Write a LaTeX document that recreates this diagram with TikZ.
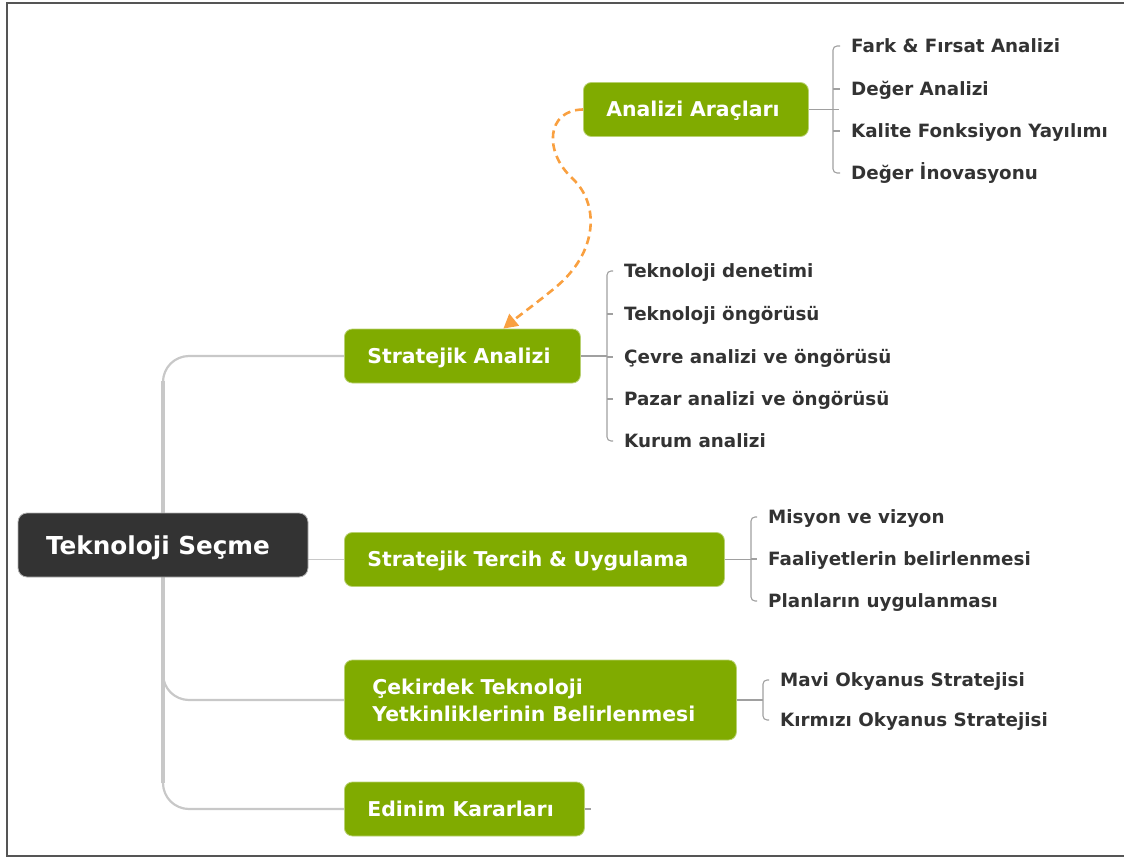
\documentclass[tikz,border=0pt]{standalone}
\usepackage{fontspec}
\setmainfont{DejaVu Sans}
\usetikzlibrary{arrows.meta}
\pgfdeclarelayer{bg}
\pgfsetlayers{bg,main}
\definecolor{leaf}{HTML}{80AB00}
\definecolor{rootc}{HTML}{333333}
\definecolor{txt}{HTML}{333333}
\definecolor{trunkc}{HTML}{C8C8C8}
\definecolor{brc}{HTML}{A0A0A0}
\definecolor{linkc}{HTML}{F9A040}
\definecolor{framec}{HTML}{555555}

\tikzset{
  rootbox/.style={fill=rootc, draw=gray!60, line width=0.8pt, rounded corners=9pt,
    text=white, font=\bfseries\fontsize{24.7}{28}\selectfont,
    minimum width=290pt, minimum height=64pt, inner sep=0pt,
    text height=18pt, text depth=0pt},
  topic/.style={fill=leaf, draw=leaf!55!white, line width=0.8pt, rounded corners=8pt,
    anchor=west, text=white, font=\bfseries\fontsize{20.4}{27}\selectfont,
    align=left, inner xsep=23pt, inner ysep=0pt, minimum height=54pt},
  oneline/.style={text height=14.8pt, text depth=0pt},
  item/.style={anchor=west, text=txt, font=\bfseries\fontsize{18.3}{22}\selectfont,
    inner xsep=11pt, inner ysep=2pt, text height=13.4pt, text depth=0pt},
  trunk/.style={draw=trunkc, line width=2.2pt, rounded corners=26pt},
  stem/.style={draw=trunkc, line width=1.8pt},
  brace/.style={draw=brc, line width=1.1pt, rounded corners=4pt},
  tick/.style={draw=brc, line width=1.1pt},
  relation/.style={draw=linkc, line width=2.6pt, dash pattern=on 8pt off 5pt,
    -{Triangle[length=14pt,width=15pt]}}
}

\begin{document}
\begin{tikzpicture}[x=1pt, y=-1pt]
  \useasboundingbox (0,0) rectangle (1124,859);

  % outer frame (open on the right)
  \draw[framec, line width=1.6pt] (1124,3) -- (7,3) -- (7,856) -- (1124,856);

  % central topic and main branches
  \node[rootbox] (root) at (163,545) {\hspace*{-10pt}Teknoloji Seçme};
  \node[topic, oneline, text width=179pt] (aa) at (583,109.5) {Analizi Araçları};
  \node[topic, oneline, text width=190pt] (sa) at (344,356) {Stratejik Analizi};
  \node[topic, oneline, text width=334pt] (st) at (344,559.5) {Stratejik Tercih \& Uygulama};
  \node[topic, text width=336pt, inner xsep=28pt, minimum height=80pt] (ck) at (344,700)
    {Çekirdek Teknoloji\\Yetkinliklerinin Belirlenmesi};
  \node[topic, oneline, text width=194pt] (ed) at (344,809) {Edinim Kararları};

  % trunk joining the central topic to its branches
  \coordinate (tk) at (163,545);
  \begin{pgfonlayer}{bg}
    \draw[trunk] (sa.west) -| (tk);
    \draw[trunk] (ck.west) -| (tk);
    \draw[trunk] (ed.west) -| (tk);
    \draw[draw=trunkc, line width=3.4pt] (163,381) -- (163,783);
    \draw[stem] (st.west) -- (st.west -| root.east);
  \end{pgfonlayer}

  % Analizi Araçları
  \node[item] (a1) at (840,46) {Fark \& Fırsat Analizi};
  \node[item] (a2) at (840,89) {Değer Analizi};
  \node[item] (a3) at (840,131) {Kalite Fonksiyon Yayılımı};
  \node[item] (a4) at (840,173) {Değer İnovasyonu};
  \coordinate (ba) at (833,109.5);
  \draw[tick] (aa.east) -- (ba);
  \draw[brace] (a1.west) -| (ba) |- (a4.west);
  \draw[tick] (ba |- a2.west) -- (a2.west);
  \draw[tick] (ba |- a3.west) -- (a3.west);
  \draw[tick] (ba) -- ++(6,0);

  % Stratejik Analizi
  \node[item] (s1) at (613,271) {Teknoloji denetimi};
  \node[item] (s2) at (613,314) {Teknoloji öngörüsü};
  \node[item] (s3) at (613,357) {Çevre analizi ve öngörüsü};
  \node[item] (s4) at (613,399) {Pazar analizi ve öngörüsü};
  \node[item] (s5) at (613,441) {Kurum analizi};
  \coordinate (bs) at (607,356);
  \draw[tick] (sa.east) -- (bs);
  \draw[brace] (s1.west) -| (bs) |- (s5.west);
  \draw[tick] (bs |- s2.west) -- (s2.west);
  \draw[tick] (bs |- s3.west) -- (s3.west);
  \draw[tick] (bs |- s4.west) -- (s4.west);

  % Stratejik Tercih & Uygulama
  \node[item] (t1) at (757,517) {Misyon ve vizyon};
  \node[item] (t2) at (757,559) {Faaliyetlerin belirlenmesi};
  \node[item] (t3) at (757,601) {Planların uygulanması};
  \coordinate (bt) at (751,559.5);
  \draw[tick] (st.east) -- (bt);
  \draw[brace] (t1.west) -| (bt) |- (t3.west);
  \draw[tick] (bt |- t2.west) -- (t2.west);

  % Çekirdek Teknoloji Yetkinlikleri
  \node[item] (k1) at (769,680) {Mavi Okyanus Stratejisi};
  \node[item] (k2) at (769,720) {Kırmızı Okyanus Stratejisi};
  \coordinate (bk) at (763,700);
  \draw[tick] (ck.east) -- (bk);
  \draw[brace] (k1.west) -| (bk) |- (k2.west);

  % Edinim Kararları stub
  \draw[tick] (ed.east) -- ++(6,0);

  % relation between the two analysis topics
  \draw[relation] (aa.west) .. controls (546,110) and (544,152) .. (572,178)
    .. controls (600,204) and (598,252) .. (556,287)
    .. controls (538,302) and (520,315) .. ([xshift=41pt]sa.north);
\end{tikzpicture}
\end{document}
